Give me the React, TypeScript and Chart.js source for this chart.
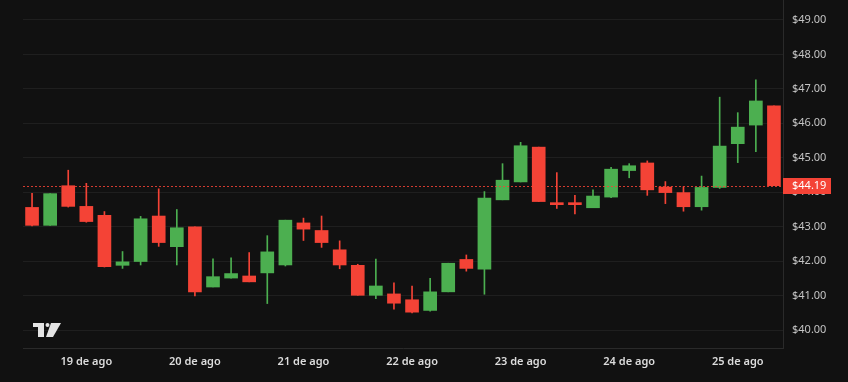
import React, { useEffect, useRef } from "react";
import { Chart, registerables } from "chart.js";

Chart.register(...registerables);

// 4-hour candles, 18 Aug 12:00 -> 25 Aug 08:00
const categories = [
  "18/08 12:00", "18/08 16:00", "18/08 20:00",
  "19/08 00:00", "19/08 04:00", "19/08 08:00", "19/08 12:00", "19/08 16:00", "19/08 20:00",
  "20/08 00:00", "20/08 04:00", "20/08 08:00", "20/08 12:00", "20/08 16:00", "20/08 20:00",
  "21/08 00:00", "21/08 04:00", "21/08 08:00", "21/08 12:00", "21/08 16:00", "21/08 20:00",
  "22/08 00:00", "22/08 04:00", "22/08 08:00", "22/08 12:00", "22/08 16:00", "22/08 20:00",
  "23/08 00:00", "23/08 04:00", "23/08 08:00", "23/08 12:00", "23/08 16:00", "23/08 20:00",
  "24/08 00:00", "24/08 04:00", "24/08 08:00", "24/08 12:00", "24/08 16:00", "24/08 20:00",
  "25/08 00:00", "25/08 04:00", "25/08 08:00",
];

const opens = [
  43.56, 43.04, 44.19, 43.59, 43.33, 41.88, 41.99, 43.31, 42.42, 43.0,
  41.25, 41.51, 41.57, 41.66, 41.89, 43.11, 42.89, 42.33, 41.88, 41.01,
  41.05, 40.88, 40.57, 41.11, 42.05, 41.77, 43.78, 44.3, 45.31, 43.64,
  43.64, 43.55, 43.86, 44.63, 44.85, 44.15, 43.99, 43.58, 44.14, 45.41,
  45.95, 46.51,
];
const highs = [
  43.97, 43.96, 44.64, 44.26, 43.44, 42.28, 43.3, 44.1, 43.5, 43.0,
  42.07, 42.1, 42.25, 42.74, 43.19, 43.25, 43.31, 42.59, 41.91, 42.06,
  41.37, 41.28, 41.5, 41.94, 42.18, 44.02, 44.83, 45.45, 45.31, 44.57,
  43.91, 44.07, 44.72, 44.83, 44.91, 44.31, 44.16, 44.47, 46.76, 46.31,
  47.26, 46.51,
];
const lows = [
  43.02, 43.04, 43.57, 43.13, 41.83, 41.79, 41.89, 42.43, 41.89, 40.99,
  41.25, 41.51, 41.4, 40.77, 41.86, 42.6, 42.4, 41.78, 41.01, 40.91,
  40.61, 40.5, 40.55, 41.11, 41.71, 41.04, 43.78, 44.3, 43.73, 43.53,
  43.37, 43.55, 43.84, 44.42, 43.91, 43.67, 43.45, 43.48, 44.11, 44.86,
  45.18, 44.19,
];
const closes = [
  43.04, 43.96, 43.59, 43.15, 41.84, 41.98, 43.23, 42.54, 42.97, 41.11,
  41.55, 41.64, 41.4, 42.27, 43.19, 42.93, 42.54, 41.89, 41.01, 41.28,
  40.78, 40.52, 41.11, 41.94, 41.79, 43.83, 44.35, 45.35, 43.73, 43.64,
  43.64, 43.89, 44.67, 44.77, 44.07, 43.99, 43.58, 44.14, 45.34, 45.89,
  46.65, 44.19,
];

const lastPrice = 44.19;
const priceTicks = [40, 41, 42, 43, 44, 45, 46, 47, 48, 49];
const monthLabel = "ago";

const UP = "#4CAF50";
const DOWN = "#F44336";
const BG = "#111111";
const FONT = "'Noto Sans', 'DejaVu Sans', sans-serif";

export default function App() {
  const ref = useRef<HTMLCanvasElement>(null);

  useEffect(() => {
    if (!ref.current) return;
    const colors = closes.map((c, i) => (c > opens[i] ? UP : DOWN));

    const overlay = {
      id: "overlay",
      afterDatasetsDraw(chart: any) {
        const { ctx, chartArea, scales } = chart;
        const py = Math.round(scales.y.getPixelForValue(lastPrice)) + 0.5;
        ctx.save();
        ctx.strokeStyle = "rgba(244,67,54,0.85)";
        ctx.lineWidth = 1;
        ctx.setLineDash([2, 2]);
        ctx.beginPath();
        ctx.moveTo(chartArea.left, py);
        ctx.lineTo(chartArea.right, py);
        ctx.stroke();
        ctx.restore();
      },
      afterDraw(chart: any) {
        const { ctx, chartArea, scales } = chart;
        const py = scales.y.getPixelForValue(lastPrice);
        ctx.save();
        ctx.fillStyle = DOWN;
        ctx.fillRect(chartArea.right, Math.round(py) - 8, 48, 16);
        ctx.fillStyle = "#ffffff";
        ctx.font = `11px ${FONT}`;
        ctx.textBaseline = "middle";
        ctx.textAlign = "left";
        ctx.fillText("$" + lastPrice.toFixed(2), chartArea.right + 9, Math.round(py));
        // logo
        ctx.fillStyle = "#e4e4e4";
        ctx.fillRect(33, 323, 11, 4);
        ctx.fillRect(38, 323, 6, 14);
        ctx.beginPath();
        ctx.arc(47.5, 325, 2, 0, Math.PI * 2);
        ctx.fill();
        ctx.beginPath();
        ctx.moveTo(51, 323);
        ctx.lineTo(61, 323);
        ctx.lineTo(53, 337);
        ctx.lineTo(46, 337);
        ctx.closePath();
        ctx.fill();
        ctx.restore();
      },
    };

    const chart = new Chart(ref.current, {
      type: "bar",
      data: {
        labels: categories,
        datasets: [
          {
            label: "body",
            data: opens.map((o, i) => [o, closes[i]]),
            backgroundColor: colors,
            barThickness: 13,
            minBarLength: 2,
            grouped: false,
            order: 0,
          } as any,
          {
            label: "wick",
            data: lows.map((l, i) => [l, highs[i]]),
            backgroundColor: colors,
            barThickness: 1,
            grouped: false,
            order: 1,
          } as any,
        ],
      },
      options: {
        animation: false,
        responsive: false,
        maintainAspectRatio: false,
        layout: { padding: { left: 23, top: 0, right: 0, bottom: 0 } },
        plugins: { legend: { display: false }, tooltip: { enabled: false } },
        scales: {
          x: {
            type: "category",
            offset: true,
            grid: { display: false, drawTicks: false },
            border: { display: true, color: "#2a2a2a" },
            ticks: {
              autoSkip: false,
              maxRotation: 0,
              minRotation: 0,
              padding: 7,
              color: "#dcdcdc",
              font: { family: FONT, size: 11, weight: "600" },
              callback: (_v: any, i: number) => {
                const c = categories[i];
                if (!c || !c.endsWith("00:00")) return "";
                return `${parseInt(c.slice(0, 2), 10)} de ${monthLabel}`;
              },
            },
            afterFit: (s: any) => {
              s.height = 34;
              s.paddingLeft = 0;
              s.paddingRight = 0;
            },
          },
          y: {
            position: "right",
            min: 39.48,
            max: 49.58,
            grid: { color: "#1f1f1f", drawTicks: false },
            border: { display: true, color: "#2a2a2a" },
            ticks: {
              padding: 9,
              color: "#c4c4c4",
              font: { family: FONT, size: 11 },
              callback: (v: any) => "$" + Number(v).toFixed(2),
            },
            afterBuildTicks: (s: any) => {
              s.ticks = priceTicks.map((v) => ({ value: v }));
            },
            afterFit: (s: any) => {
              s.width = 65;
              s.paddingTop = 0;
              s.paddingBottom = 0;
            },
          },
        },
      } as any,
      plugins: [overlay],
    });
    return () => chart.destroy();
  }, []);

  return (
    <div style={{ position: "fixed", left: 0, top: 0, width: 848, height: 382, background: BG }}>
      <canvas ref={ref} width={848} height={382} style={{ display: "block", width: 848, height: 382 }} />
    </div>
  );
}
